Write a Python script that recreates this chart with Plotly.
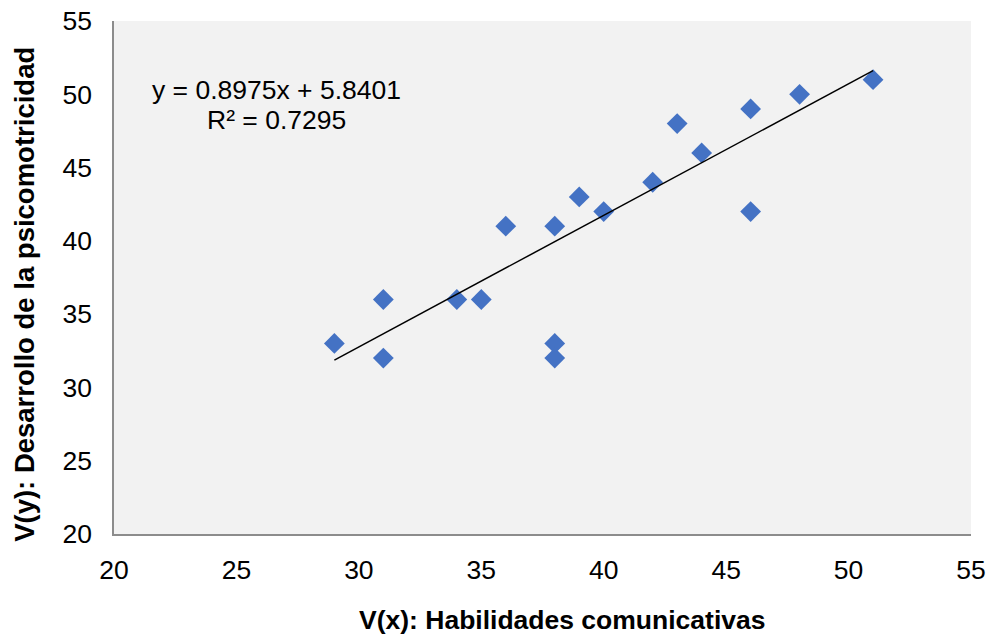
import plotly.graph_objects as go
import numpy as np

# Data
x_vals = [29, 31, 31, 34, 35, 36, 38, 38, 38, 39, 40, 42, 43, 44, 46, 46, 48, 51]
y_vals = [33, 36, 32, 36, 36, 41, 41, 33, 32, 43, 42, 44, 48, 46, 49, 42, 50, 51]
slope = 0.8975
intercept = 5.8401
r_squared = 0.7295
x_ticks = [20, 25, 30, 35, 40, 45, 50, 55]
y_ticks = [20, 25, 30, 35, 40, 45, 50, 55]

x_title = "V(x): Habilidades comunicativas"
y_title = "V(y): Desarrollo de la psicomotricidad"

FONT = "Liberation Sans, Arial, sans-serif"

trend_x = np.array([min(x_vals), max(x_vals)])
trend_y = slope * trend_x + intercept

fig = go.Figure()
fig.add_trace(go.Scatter(
    x=x_vals, y=y_vals, mode="markers",
    marker=dict(symbol="diamond", size=16, color="#4472C4", line=dict(width=0)),
    showlegend=False, hoverinfo="x+y",
))
fig.add_trace(go.Scatter(
    x=trend_x, y=trend_y, mode="lines",
    line=dict(color="black", width=1.5),
    showlegend=False, hoverinfo="skip",
))

axis_common = dict(
    showgrid=False, zeroline=False, showline=True, linecolor="#8C8C8C", linewidth=1.5,
    ticks="", tickfont=dict(family=FONT, size=26.5, color="black"),
    tickmode="array",
)
fig.update_xaxes(range=[20, 55], tickvals=x_ticks, ticktext=[str(v) for v in x_ticks],
                 ticklabelstandoff=11, **axis_common)
fig.update_yaxes(range=[20, 55], tickvals=y_ticks, ticktext=[str(v) for v in y_ticks],
                 ticklabelstandoff=15, **axis_common)

fig.update_layout(
    width=993, height=637,
    margin=dict(l=114, r=22, t=21, b=103, autoexpand=False),
    plot_bgcolor="#F2F2F2", paper_bgcolor="white",
    font=dict(family=FONT, color="black"),
    annotations=[
        dict(text=f"<b>{x_title}</b>", xref="paper", yref="paper", x=0.5228, y=-0.1676,
             xanchor="center", yanchor="middle", showarrow=False,
             font=dict(family=FONT, size=26.5, color="black")),
        dict(text=f"<b>{y_title}</b>", xref="paper", yref="paper", x=-0.1039, y=0.468,
             xanchor="center", yanchor="middle", showarrow=False, textangle=-90,
             font=dict(family=FONT, size=27.5, color="black")),
        dict(text=f"y = {slope}x + {intercept}", xref="paper", yref="paper",
             x=0.190, y=(534 - 90) / 513, xanchor="center", yanchor="middle",
             showarrow=False, font=dict(family=FONT, size=26.5, color="black")),
        dict(text=f"R² = {r_squared}", xref="paper", yref="paper",
             x=0.190, y=(534 - 120) / 513, xanchor="center", yanchor="middle",
             showarrow=False, font=dict(family=FONT, size=26.5, color="black")),
    ],
)

fig.write_html("out.html", config={"displayModeBar": False},
               post_script="document.body.style.margin='0';document.body.style.overflow='hidden';")
